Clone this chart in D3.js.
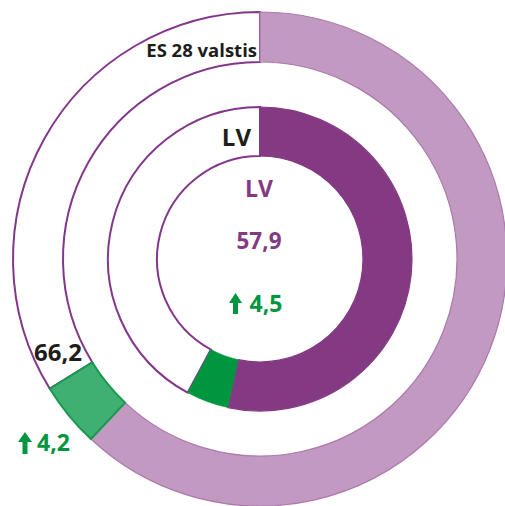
<!DOCTYPE html>
<html><head><meta charset="utf-8">
<script src="https://cdn.jsdelivr.net/npm/d3@7"></script>
<style>html,body{margin:0;padding:0;background:#fff}</style>
</head><body>
<svg id="c" width="505" height="506"></svg>
<script>
const categories = ["ES 28 valstis", "LV"];
const values = [66.2, 57.9];
const changes = [4.2, 4.5];
const centerLabel = "LV";

const svg = d3.select("#c");
const cx = 260, cy = 259;
const g = svg.append("g").attr("transform", `translate(${cx},${cy})`);
const ang = d3.scaleLinear().domain([0, 100]).range([0, 2 * Math.PI]);
const fmt = v => d3.format(".1f")(v).replace(".", ",");

const rings = [
  {ri: 197, ro: 247, main: "#c199c1", mainStroke: "#ad78ad", green: "#3fb071", greenStroke: "#19994f", outline: "#84378a"},
  {ri: 103, ro: 152, main: "#843a83", mainStroke: "#843a83", green: "#009640", greenStroke: "#009640", outline: "#84378a"}
];
const font = "'Open Sans', sans-serif";

rings.forEach((r, i) => {
  const v = values[i], c = changes[i];
  const arc = d3.arc().innerRadius(r.ri).outerRadius(r.ro);
  g.append("path").attr("d", arc({startAngle: ang(v), endAngle: ang(100)}))
    .attr("fill", "#fff").attr("stroke", r.outline).attr("stroke-width", 2);
  g.append("path").attr("d", arc({startAngle: ang(0), endAngle: ang(v - c)}))
    .attr("fill", r.main).attr("stroke", r.mainStroke).attr("stroke-width", 1.2);
  g.append("path").attr("d", arc({startAngle: ang(v - c), endAngle: ang(v)}))
    .attr("fill", r.green).attr("stroke", r.greenStroke).attr("stroke-width", i === 0 ? 2 : 0.5);
});

svg.append("text").attr("x", 257).attr("y", 57).attr("text-anchor", "end")
  .attr("font-family", font).attr("font-weight", 700).attr("font-size", 18.5)
  .attr("fill", "#1d1d1b").text(categories[0]);
svg.append("text").attr("x", 251).attr("y", 146).attr("text-anchor", "end")
  .attr("font-family", font).attr("font-weight", 700).attr("font-size", 24)
  .attr("fill", "#1d1d1b").text(categories[1]);

svg.append("text").attr("x", 34).attr("y", 361)
  .attr("font-family", font).attr("font-weight", 700).attr("font-size", 24)
  .attr("fill", "#1d1d1b").text(fmt(values[0]));

function arrow(x, yTop, yBot, w) {
  const head = 10, shaft = 5;
  const p = d3.path();
  p.moveTo(x, yTop); p.lineTo(x + w / 2, yTop + head); p.lineTo(x + shaft / 2, yTop + head);
  p.lineTo(x + shaft / 2, yBot); p.lineTo(x - shaft / 2, yBot); p.lineTo(x - shaft / 2, yTop + head);
  p.lineTo(x - w / 2, yTop + head); p.closePath();
  svg.append("path").attr("d", p.toString()).attr("fill", "#009640");
}
arrow(25, 432, 454, 14);
svg.append("text").attr("x", 37).attr("y", 451)
  .attr("font-family", font).attr("font-weight", 700).attr("font-size", 23)
  .attr("fill", "#009640").text(fmt(changes[0]));

svg.append("text").attr("x", 259).attr("y", 197).attr("text-anchor", "middle")
  .attr("font-family", font).attr("font-weight", 700).attr("font-size", 23)
  .attr("fill", "#843a83").text(centerLabel);
svg.append("text").attr("x", 259).attr("y", 249).attr("text-anchor", "middle")
  .attr("font-family", font).attr("font-weight", 700).attr("font-size", 22.5)
  .attr("fill", "#843a83").text(fmt(values[1]));
arrow(235.5, 293, 314, 13);
svg.append("text").attr("x", 249.5).attr("y", 312)
  .attr("font-family", font).attr("font-weight", 700).attr("font-size", 23)
  .attr("fill", "#009640").text(fmt(changes[1]));
</script>
</body></html>
